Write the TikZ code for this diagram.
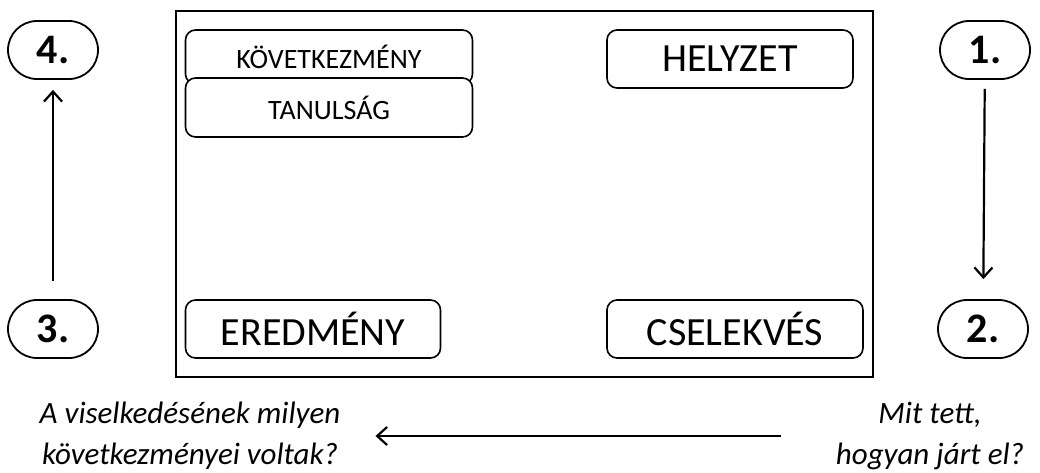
\documentclass[tikz,border=0pt]{standalone}
\usepackage{fontspec}
\setmainfont{Carlito}
\usetikzlibrary{positioning,arrows.meta}

\begin{document}
\begin{tikzpicture}[x=1pt, y=-1pt, >={Straight Barb[length=10pt,width=18pt]}]
      \tikzstyle{num}=[draw, line width=1.8pt, rounded corners=29pt, minimum width=90pt, minimum height=58pt, inner sep=0pt, text height=27pt, text depth=0pt, font=\fontsize{42}{42}\selectfont\bfseries]
      \tikzstyle{box}=[draw, line width=1.6pt, rounded corners=10pt, fill=white, inner sep=0pt, font=\fontsize{40}{40}\selectfont]
      \tikzstyle{small}=[box, minimum width=287pt, font=\fontsize{28}{28}\selectfont]
      \tikzstyle{question}=[align=center, inner sep=0pt, font=\fontsize{31}{41}\selectfont\itshape]
      \useasboundingbox (0,0) rectangle (1040,472);
      % frame
      \node[draw, line width=1.8pt, minimum width=697pt, minimum height=366pt, inner sep=0pt] (frame) at (524.5,194) {};
      % steps
      \node[num] (n1) at (985,50) {1.};
      \node[num] (n2) at (983,329) {2.};
      \node[num] (n3) at (53,329) {3.};
      \node[num] (n4) at (53,50) {4.};
      % boxes
      \node[box, minimum width=246pt, minimum height=58pt] (helyzet) at (730,59) {HELYZET};
      \node[box, minimum width=256pt, minimum height=58pt] (cselekves) at (735,329) {CSELEKVÉS};
      \node[box, minimum width=255pt, minimum height=58pt] (eredmeny) at (313,329) {EREDMÉNY};
      \node[small, minimum height=54pt] (kovet) at (329,57) {KÖVETKEZMÉNY};
      \node[small, minimum height=59pt] (tanul) at (329,107.5) {TANULSÁG};
      % questions
      \node[question] (qleft) at (190,436) {A viselkedésének milyen\\következményei voltak?};
      \node[question] (qright) at (930,436) {Mit tett,\\hogyan járt el?};
      % arrows
      \draw[->, line width=2.2pt, shorten <=9pt, shorten >=20pt] (n1) -- (n2);
      \draw[->, line width=2.2pt, shorten <=18pt, shorten >=10pt] (n3) -- (n4);
      \draw[->, line width=2.2pt, shorten <=55pt, shorten >=35pt] (qright.west) -- (qleft.east);
    \end{tikzpicture}
\end{document}
